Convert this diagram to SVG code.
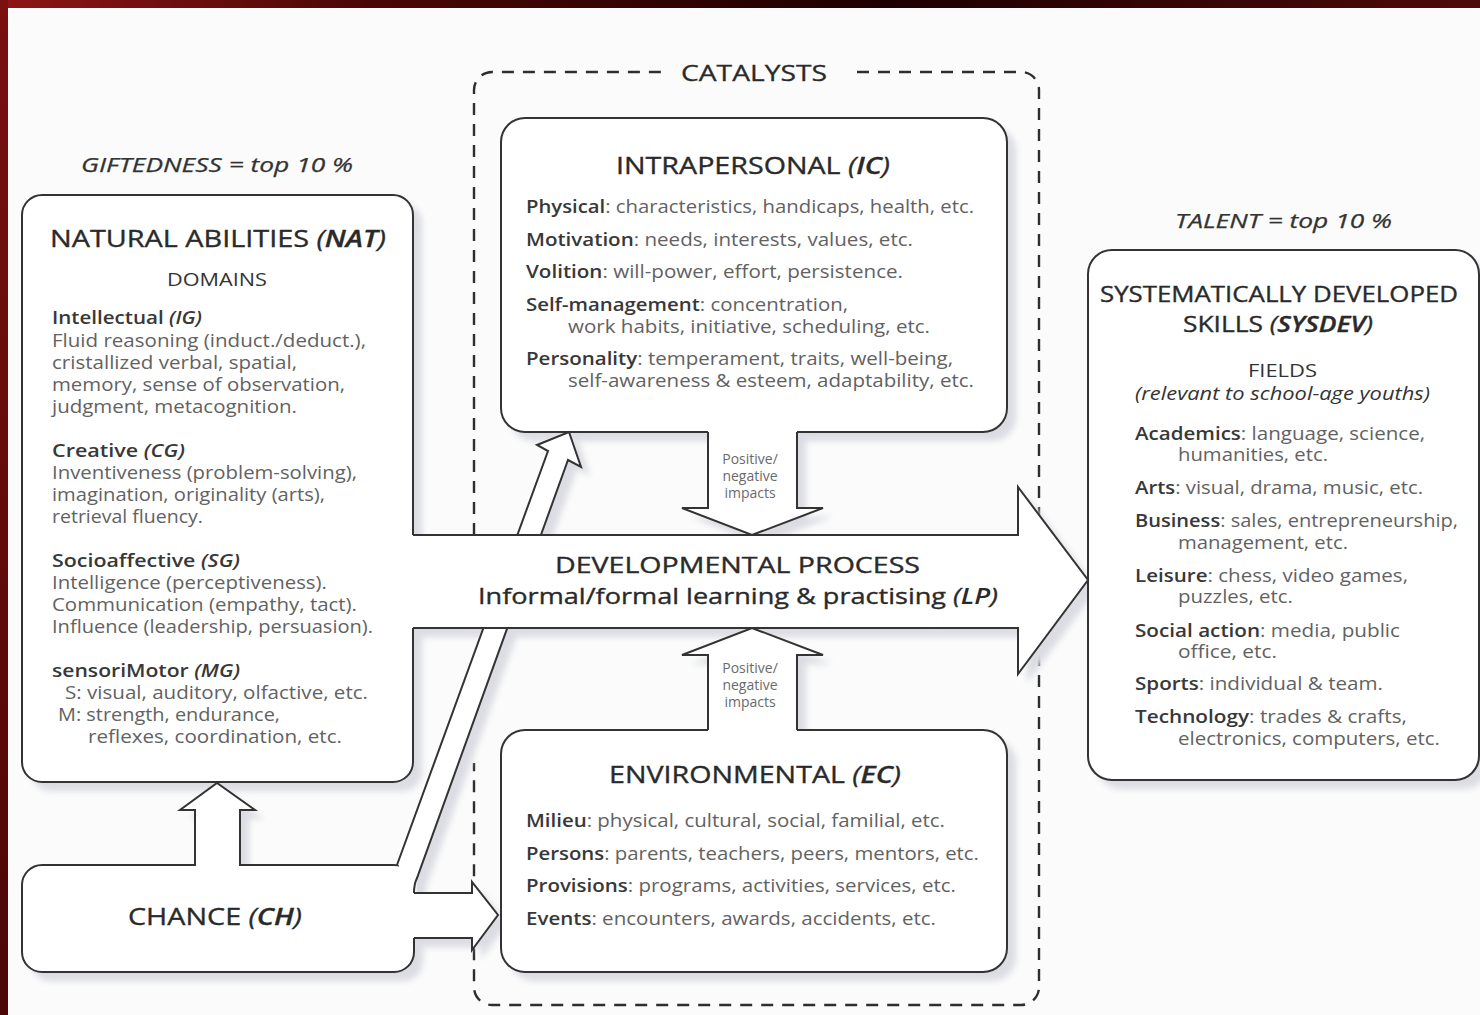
<svg xmlns="http://www.w3.org/2000/svg" xmlns:xlink="http://www.w3.org/1999/xlink" width="1480" height="1015" viewBox="0 0 1480 1015">
  <defs>
    <linearGradient id="frameTop" x1="0" y1="0" x2="1" y2="0">
      <stop offset="0" stop-color="#8e1616"/>
      <stop offset="0.25" stop-color="#4a0606"/>
      <stop offset="0.6" stop-color="#1e0000"/>
      <stop offset="1" stop-color="#4e0a0a"/>
    </linearGradient>
    <linearGradient id="frameLeft" x1="0" y1="0" x2="0" y2="1">
      <stop offset="0" stop-color="#7a1010"/>
      <stop offset="1" stop-color="#4c0606"/>
    </linearGradient>
    <filter id="soft" x="-10%" y="-10%" width="120%" height="120%">
      <feGaussianBlur stdDeviation="3"/>
    </filter>

    <!-- outlines shared by the shapes and their drop shadows -->
    <rect id="s-nat" x="22" y="195" width="391" height="587" rx="20"/>
    <rect id="s-ic" x="501" y="118" width="506" height="314" rx="24"/>
    <rect id="s-ec" x="501" y="730" width="506" height="242" rx="24"/>
    <rect id="s-sys" x="1088" y="250" width="391" height="530" rx="24"/>
    <rect id="s-ch" x="22" y="865" width="392" height="107" rx="20"/>
    <polygon id="s-lp" points="410,535 1018,535 1018,487 1088,580 1018,674 1018,628 410,628"/>
    <polygon id="s-up-nat" points="195,868 195,810 180,810 217,783 255,810 240,810 240,868"/>
    <polygon id="s-diag" points="397,862 548,451 537,445 569,432 581,467 568,460 417,878 416.5,884 416.5,895 404,895 399,866"/>
    <polygon id="s-to-ec" points="411,893 472,893 472,882 498,915 472,950 472,938 411,938"/>
    <polygon id="s-ic-lp" points="708,429 708,508 682,508 752,535 823,508 797,508 797,429"/>
    <polygon id="s-ec-lp" points="708,733 708,655 682,655 752,628 823,655 797,655 797,733"/>

    <style>
      .box { fill: #ffffff; stroke: #333333; stroke-width: 2; }
      .fillw { fill: #ffffff; stroke: none; }
      .edge { fill: none; stroke: #333333; stroke-width: 2; stroke-linejoin: miter; }
      .dash { fill: none; stroke: #2e2e2e; stroke-width: 2.4; stroke-dasharray: 12 9; }
      .t { font-family: "Open Sans", "Noto Sans", "DejaVu Sans", sans-serif; }
      .title { font-size: 24px; fill: #2a2a2a; stroke: #2a2a2a; stroke-width: 0.35px; }
      .pair { font-size: 22px; }
      .head { font-size: 20px; fill: #333333; font-style: italic; stroke: #333333; stroke-width: 0.25px; }
      .sub { font-size: 18px; fill: #333333; }
      .body { font-size: 17.5px; fill: #626262; }
      .lab { font-weight: 600; fill: #383838; }
      .it { font-style: italic; }
      .bi { font-weight: 600; font-style: italic; }
      .small { font-size: 14px; fill: #6a6a6a; }
    </style>
  </defs>

  <!-- page and frame -->
  <rect x="0" y="0" width="1480" height="1015" fill="#fafbfa"/>
  <rect x="0" y="0" width="1480" height="8" fill="url(#frameTop)"/>
  <rect x="0" y="0" width="8" height="1015" fill="url(#frameLeft)"/>

  <!-- catalysts frame (dashed) -->
  <g id="catalysts">
    <path class="dash" d="M474,535 V90 A18,18 0 0 1 492,72 H663"/>
    <path class="dash" d="M857,72 H1021 A18,18 0 0 1 1039,90 V987 A18,18 0 0 1 1021,1005 H492 A18,18 0 0 1 474,987 V763"/>
    <text class="t" x="681" y="81" font-size="22" fill="#2a2a2a" stroke="#2a2a2a" stroke-width="0.3" textLength="146" lengthAdjust="spacingAndGlyphs">CATALYSTS</text>
  </g>

  <!-- soft drop shadows -->
  <g fill="#dcdce3" transform="translate(9,9)" filter="url(#soft)">
    <use xlink:href="#s-nat"/>
    <use xlink:href="#s-ic"/>
    <use xlink:href="#s-ec"/>
    <use xlink:href="#s-sys"/>
    <use xlink:href="#s-ch"/>
    <use xlink:href="#s-lp"/>
    <use xlink:href="#s-up-nat"/>
    <use xlink:href="#s-diag"/>
    <use xlink:href="#s-to-ec"/>
    <use xlink:href="#s-ic-lp"/>
    <use xlink:href="#s-ec-lp"/>
  </g>

  <text class="t head" x="81" y="172" textLength="272" lengthAdjust="spacingAndGlyphs">GIFTEDNESS = top 10 %</text>
  <text class="t head" x="1175" y="228" textLength="217" lengthAdjust="spacingAndGlyphs">TALENT = top 10 %</text>

  <!-- natural abilities -->
  <g id="nat">
    <use xlink:href="#s-nat" class="box"/>
    <text class="t title" x="50" y="247" textLength="336" lengthAdjust="spacingAndGlyphs">NATURAL ABILITIES <tspan class="it">(</tspan><tspan class="bi">NAT</tspan><tspan class="it">)</tspan></text>
    <text class="t sub" x="167" y="286" textLength="100" lengthAdjust="spacingAndGlyphs">DOMAINS</text>
    <g class="t body">
      <text x="52" y="324" textLength="150" lengthAdjust="spacingAndGlyphs"><tspan class="lab">Intellectual </tspan><tspan class="lab it">(IG)</tspan></text>
      <text x="52" y="347" textLength="314" lengthAdjust="spacingAndGlyphs">Fluid reasoning (induct./deduct.),</text>
      <text x="52" y="369" textLength="245" lengthAdjust="spacingAndGlyphs">cristallized verbal, spatial,</text>
      <text x="52" y="391" textLength="293" lengthAdjust="spacingAndGlyphs">memory, sense of observation,</text>
      <text x="52" y="413" textLength="245" lengthAdjust="spacingAndGlyphs">judgment, metacognition.</text>
      <text x="52" y="457" textLength="133" lengthAdjust="spacingAndGlyphs"><tspan class="lab">Creative </tspan><tspan class="lab it">(CG)</tspan></text>
      <text x="52" y="479" textLength="305" lengthAdjust="spacingAndGlyphs">Inventiveness (problem-solving),</text>
      <text x="52" y="501" textLength="273" lengthAdjust="spacingAndGlyphs">imagination, originality (arts),</text>
      <text x="52" y="523" textLength="151" lengthAdjust="spacingAndGlyphs">retrieval fluency.</text>
      <text x="52" y="567" textLength="188" lengthAdjust="spacingAndGlyphs"><tspan class="lab">Socioaffective </tspan><tspan class="lab it">(SG)</tspan></text>
      <text x="52" y="589" textLength="275" lengthAdjust="spacingAndGlyphs">Intelligence (perceptiveness).</text>
      <text x="52" y="611" textLength="305" lengthAdjust="spacingAndGlyphs">Communication (empathy, tact).</text>
      <text x="52" y="633" textLength="321" lengthAdjust="spacingAndGlyphs">Influence (leadership, persuasion).</text>
      <text x="52" y="677" textLength="188" lengthAdjust="spacingAndGlyphs"><tspan class="lab">sensoriMotor </tspan><tspan class="lab it">(MG)</tspan></text>
      <text x="65" y="699" textLength="303" lengthAdjust="spacingAndGlyphs">S: visual, auditory, olfactive, etc.</text>
      <text x="58" y="721" textLength="222" lengthAdjust="spacingAndGlyphs">M: strength, endurance,</text>
      <text x="88" y="743" textLength="254" lengthAdjust="spacingAndGlyphs">reflexes, coordination, etc.</text>
    </g>
  </g>

  <!-- intrapersonal catalysts -->
  <g id="ic">
    <use xlink:href="#s-ic" class="box"/>
    <text class="t title" x="616" y="174" textLength="274" lengthAdjust="spacingAndGlyphs">INTRAPERSONAL <tspan class="it">(</tspan><tspan class="bi">IC</tspan><tspan class="it">)</tspan></text>
    <g class="t body">
      <text x="526" y="213" textLength="448" lengthAdjust="spacingAndGlyphs"><tspan class="lab">Physical</tspan>: characteristics, handicaps, health, etc.</text>
      <text x="526" y="246" textLength="387" lengthAdjust="spacingAndGlyphs"><tspan class="lab">Motivation</tspan>: needs, interests, values, etc.</text>
      <text x="526" y="278" textLength="377" lengthAdjust="spacingAndGlyphs"><tspan class="lab">Volition</tspan>: will-power, effort, persistence.</text>
      <text x="526" y="311" textLength="322" lengthAdjust="spacingAndGlyphs"><tspan class="lab">Self-management</tspan>: concentration,</text>
      <text x="568" y="333" textLength="362" lengthAdjust="spacingAndGlyphs">work habits, initiative, scheduling, etc.</text>
      <text x="526" y="365" textLength="427" lengthAdjust="spacingAndGlyphs"><tspan class="lab">Personality</tspan>: temperament, traits, well-being,</text>
      <text x="568" y="387" textLength="406" lengthAdjust="spacingAndGlyphs">self-awareness &amp; esteem, adaptability, etc.</text>
    </g>
  </g>

  <!-- environmental catalysts -->
  <g id="ec">
    <use xlink:href="#s-ec" class="box"/>
    <text class="t title" x="609" y="783" textLength="292" lengthAdjust="spacingAndGlyphs">ENVIRONMENTAL <tspan class="it">(</tspan><tspan class="bi">EC</tspan><tspan class="it">)</tspan></text>
    <g class="t body">
      <text x="526" y="827" textLength="419" lengthAdjust="spacingAndGlyphs"><tspan class="lab">Milieu</tspan>: physical, cultural, social, familial, etc.</text>
      <text x="526" y="860" textLength="453" lengthAdjust="spacingAndGlyphs"><tspan class="lab">Persons</tspan>: parents, teachers, peers, mentors, etc.</text>
      <text x="526" y="892" textLength="430" lengthAdjust="spacingAndGlyphs"><tspan class="lab">Provisions</tspan>: programs, activities, services, etc.</text>
      <text x="526" y="925" textLength="410" lengthAdjust="spacingAndGlyphs"><tspan class="lab">Events</tspan>: encounters, awards, accidents, etc.</text>
    </g>
  </g>

  <!-- systematically developed skills -->
  <g id="sysdev">
    <use xlink:href="#s-sys" class="box"/>
    <text class="t title pair" x="1100" y="302" textLength="358" lengthAdjust="spacingAndGlyphs">SYSTEMATICALLY DEVELOPED</text>
    <text class="t title pair" x="1183" y="332" textLength="190" lengthAdjust="spacingAndGlyphs">SKILLS <tspan class="it">(</tspan><tspan class="bi">SYSDEV</tspan><tspan class="it">)</tspan></text>
    <text class="t sub" x="1248" y="377" textLength="69" lengthAdjust="spacingAndGlyphs">FIELDS</text>
    <text class="t sub it" x="1135" y="400" textLength="295" lengthAdjust="spacingAndGlyphs" fill="#555555">(relevant to school-age youths)</text>
    <g class="t body">
      <text x="1135" y="440" textLength="290" lengthAdjust="spacingAndGlyphs"><tspan class="lab">Academics</tspan>: language, science,</text>
      <text x="1178" y="461" textLength="150" lengthAdjust="spacingAndGlyphs">humanities, etc.</text>
      <text x="1135" y="494" textLength="288" lengthAdjust="spacingAndGlyphs"><tspan class="lab">Arts</tspan>: visual, drama, music, etc.</text>
      <text x="1135" y="527" textLength="323" lengthAdjust="spacingAndGlyphs"><tspan class="lab">Business</tspan>: sales, entrepreneurship,</text>
      <text x="1178" y="549" textLength="170" lengthAdjust="spacingAndGlyphs">management, etc.</text>
      <text x="1135" y="582" textLength="273" lengthAdjust="spacingAndGlyphs"><tspan class="lab">Leisure</tspan>: chess, video games,</text>
      <text x="1178" y="603" textLength="115" lengthAdjust="spacingAndGlyphs">puzzles, etc.</text>
      <text x="1135" y="637" textLength="265" lengthAdjust="spacingAndGlyphs"><tspan class="lab">Social action</tspan>: media, public</text>
      <text x="1178" y="658" textLength="99" lengthAdjust="spacingAndGlyphs">office, etc.</text>
      <text x="1135" y="690" textLength="248" lengthAdjust="spacingAndGlyphs"><tspan class="lab">Sports</tspan>: individual &amp; team.</text>
      <text x="1135" y="723" textLength="272" lengthAdjust="spacingAndGlyphs"><tspan class="lab">Technology</tspan>: trades &amp; crafts,</text>
      <text x="1178" y="745" textLength="262" lengthAdjust="spacingAndGlyphs">electronics, computers, etc.</text>
    </g>
  </g>

  <!-- chance -->
  <g id="chance">
    <use xlink:href="#s-ch" class="box"/>
    <text class="t title" x="128" y="925" textLength="174" lengthAdjust="spacingAndGlyphs">CHANCE <tspan class="it">(</tspan><tspan class="bi">CH</tspan><tspan class="it">)</tspan></text>
  </g>

  <!-- block arrows between the components -->
  <g id="connectors">
    <g id="ch-to-nat">
      <use xlink:href="#s-up-nat" class="fillw"/>
      <path class="edge" d="M195,866 V810 H180 L217,783 L255,810 H240 V866"/>
    </g>
    <g id="ch-to-ic">
      <use xlink:href="#s-diag" class="fillw"/>
      <path class="edge" d="M397,865 L548,451 L537,445 L569,432 L581,467 L568,460 L417,878 Q414,884 414,893"/>
    </g>
    <g id="ch-to-ec">
      <use xlink:href="#s-to-ec" class="fillw"/>
      <path class="edge" d="M414,893 H472 V882 L498,915 L472,950 V938 H414"/>
    </g>
    <g id="ic-to-lp">
      <use xlink:href="#s-ic-lp" class="fillw"/>
      <path class="edge" d="M708,432 V508 H682 L752,535 L823,508 H797 V432"/>
      <g class="t small" text-anchor="middle">
        <text x="750" y="464">Positive/</text>
        <text x="750" y="481">negative</text>
        <text x="750" y="498">impacts</text>
      </g>
    </g>
    <g id="ec-to-lp">
      <use xlink:href="#s-ec-lp" class="fillw"/>
      <path class="edge" d="M708,730 V655 H682 L752,628 L823,655 H797 V730"/>
      <g class="t small" text-anchor="middle">
        <text x="750" y="673">Positive/</text>
        <text x="750" y="690">negative</text>
        <text x="750" y="707">impacts</text>
      </g>
    </g>
  </g>

  <!-- developmental process: the broad arrow from abilities to skills -->
  <g id="lp">
    <use xlink:href="#s-lp" class="fillw"/>
    <path class="edge" d="M413,535 H1018 V487 L1088,580 L1018,674 V628 H413"/>
    <text class="t title pair" x="555" y="573" textLength="365" lengthAdjust="spacingAndGlyphs">DEVELOPMENTAL PROCESS</text>
    <text class="t title pair" x="478" y="604" textLength="520" lengthAdjust="spacingAndGlyphs" stroke-width="0.6">Informal/formal learning &amp; practising <tspan class="it">(</tspan><tspan class="bi" stroke-width="0">LP</tspan><tspan class="it">)</tspan></text>
  </g>
</svg>
